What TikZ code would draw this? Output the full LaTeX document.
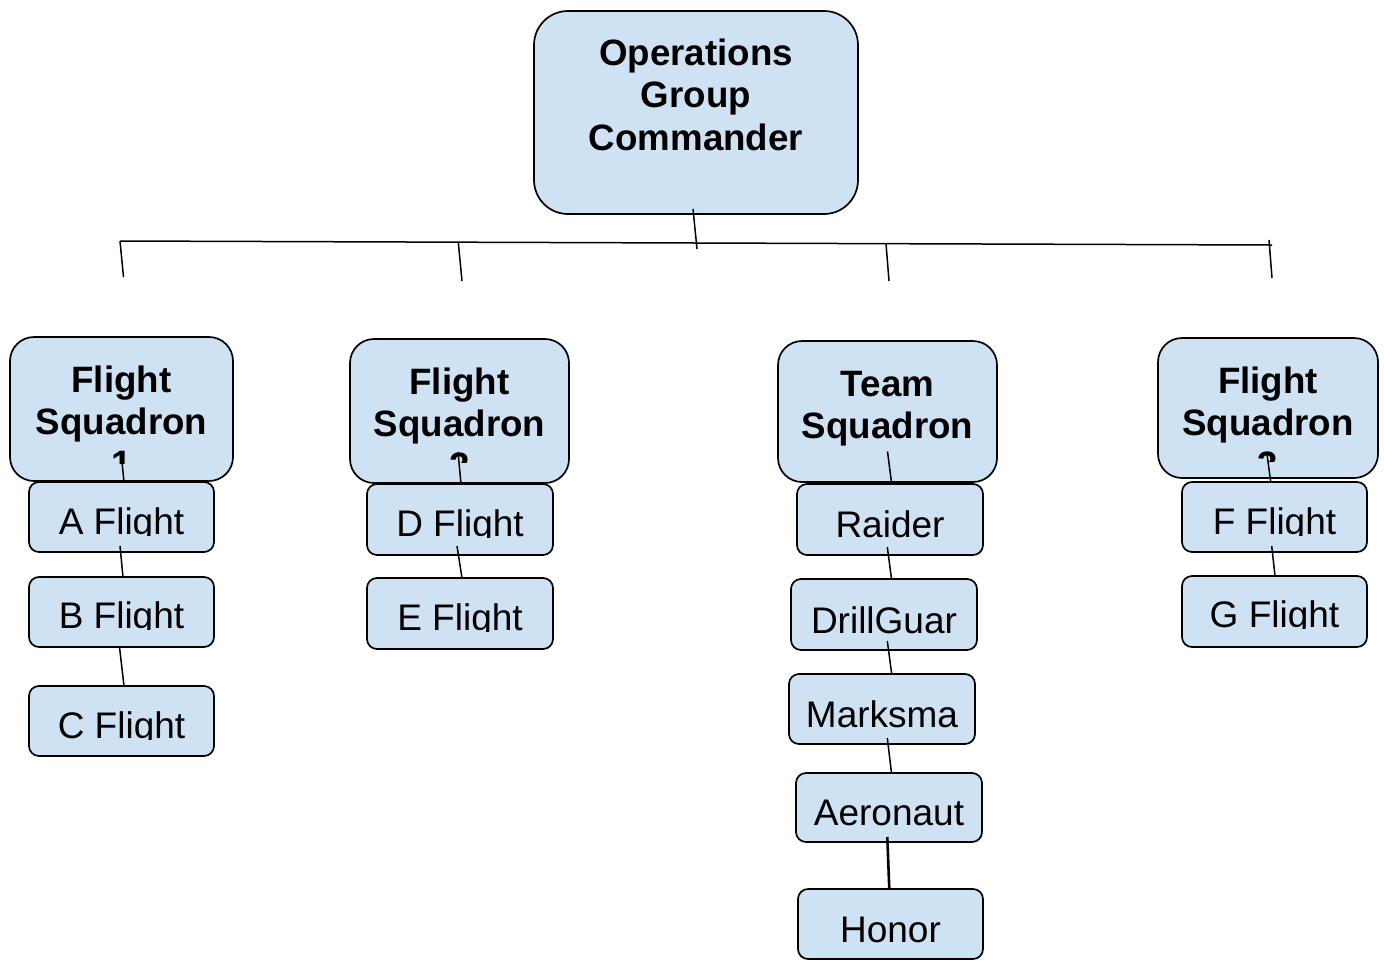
\documentclass[tikz,border=0pt]{standalone}
\usepackage{fontspec}
\setmainfont{Liberation Sans}
\definecolor{boxblue}{HTML}{CFE2F3}
\tikzset{
  box/.style={draw=black, line width=1.7pt, fill=boxblue, inner sep=0pt, outer sep=0pt, rectangle},
  bigbox/.style={box, rounded corners=34pt},
  sqbox/.style={box, rounded corners=24pt},
  smbox/.style={box, rounded corners=10pt},
  txt/.style={anchor=base, inner sep=0pt, outer sep=0pt, font=\fontsize{37}{42}\selectfont},
  btxt/.style={anchor=base, inner sep=0pt, outer sep=0pt, font=\fontsize{36.7}{42}\selectfont\bfseries},
  conn/.style={line width=1.5pt, draw=black},
  thickconn/.style={line width=2.6pt, draw=black},
}
% style, name, cx, cy, w, h
\newcommand\boxnode[6]{\node[#1, minimum width=#5pt, minimum height=#6pt] (#2) at (#3,#4) {};}
% style, name, x, baseline, clip bottom, text
\newcommand\cliptxt[6]{\begin{scope}\clip (#3-170,#4-70) rectangle (#3+170,#5); \node[#1] (#2) at (#3,#4) {#6};\end{scope}}
\begin{document}
\begin{tikzpicture}[x=1pt,y=-1pt]
\useasboundingbox (0,0) rectangle (1384,962);

% commander
\boxnode{bigbox}{cmd}{696}{112.5}{324}{203}
\node[btxt] (cmd1) at (696,65) {Operations};
\node[btxt] (cmd2) at (696,107) {Group};
\node[btxt] (cmd3) at (696,150) {Commander};

% squadrons
\boxnode{sqbox}{s1}{121.5}{409}{223}{144}
\node[btxt] (s1a) at (121.5,392) {Flight};
\node[btxt] (s1b) at (121.5,434) {Squadron};
\cliptxt{btxt}{s1c}{121.5}{476}{463}{1}

\boxnode{sqbox}{s2}{459.5}{411}{219}{144}
\node[btxt] (s2a) at (459.5,394) {Flight};
\node[btxt] (s2b) at (459.5,436) {Squadron};
\cliptxt{btxt}{s2c}{459.5}{478}{462}{2}

\boxnode{sqbox}{ts}{887.5}{411.5}{219}{141}
\node[btxt] (tsa) at (887.5,396) {Team};
\node[btxt] (tsb) at (887.5,438) {Squadron};

\boxnode{sqbox}{s3}{1268}{408}{220}{140}
\node[btxt] (s3a) at (1268,393) {Flight};
\node[btxt] (s3b) at (1268,435) {Squadron};
\cliptxt{btxt}{s3c}{1268}{477}{461}{3}

% flights
\boxnode{smbox}{A}{121.5}{517}{185}{70}
\cliptxt{txt}{At}{121.5}{534}{535.5}{A Flight}
\boxnode{smbox}{B}{121.5}{612}{185}{70}
\cliptxt{txt}{Bt}{121.5}{628}{629.5}{B Flight}
\boxnode{smbox}{C}{121.5}{721}{185}{70}
\cliptxt{txt}{Ct}{121.5}{738}{739.5}{C Flight}

\boxnode{smbox}{D}{460}{519.5}{186}{71}
\cliptxt{txt}{Dt}{460}{536}{537.5}{D Flight}
\boxnode{smbox}{E}{460}{613.5}{186}{71}
\cliptxt{txt}{Et}{460}{630}{631.5}{E Flight}

\boxnode{smbox}{F}{1274.5}{517}{185}{70}
\cliptxt{txt}{Ft}{1274.5}{534}{535.5}{F Flight}
\boxnode{smbox}{G}{1274.5}{611.5}{185}{71}
\cliptxt{txt}{Gt}{1274.5}{627}{628.5}{G Flight}

\boxnode{smbox}{R}{890}{519.5}{186}{71}
\node[txt] (Rt) at (890,537) {Raider};
\boxnode{smbox}{Dg}{884}{614.5}{186}{71}
\node[txt] (Dgt) at (884,633) {DrillGuar};
\boxnode{smbox}{M}{882}{709}{186}{70}
\node[txt] (Mt) at (882,727) {Marksma};
\boxnode{smbox}{Ae}{889}{807.5}{186}{69}
\node[txt] (Aet) at (889,825) {Aeronaut};
\boxnode{smbox}{H}{890.5}{924}{185}{70}
\node[txt] (Ht) at (890.5,942) {Honor};

% bar
\coordinate (barL) at (120,241);
\coordinate (barR) at (1272,245);
\coordinate (cb) at (697,249);
\coordinate (j2) at (458.3,242.5);
\coordinate (j3) at (886,243.5);
\coordinate (j4) at (1269,240);
\coordinate (t1) at (123.5,277);
\coordinate (t2) at (462,281);
\coordinate (t3) at (889,281);
\coordinate (t4) at (1272,278);
\draw[conn] (barL) -- (barR);
\draw[conn] ([xshift=-3pt,yshift=5pt]cmd.south) -- (cb);
\draw[conn] (barL) -- (t1);
\draw[conn] (j2) -- (t2);
\draw[conn] (j3) -- (t3);
\draw[conn] (j4) -- (t4);

% squadron to first child
\draw[conn] ([xshift=-0.5pt,yshift=29pt]s1.south) -- ([xshift=2.5pt]A.north);
\draw[conn] ([xshift=-1.5pt,yshift=31pt]s2.south) -- ([xshift=1pt]D.north);
\draw[conn] ([yshift=30.5pt]ts.south) -- ([xshift=1.7pt]R.north);
\draw[conn] ([xshift=-1.3pt,yshift=26pt]s3.south) -- ([xshift=-3.8pt]F.north);

% chains
\draw[conn] ([xshift=-1.5pt,yshift=6pt]A.south) -- ([xshift=1.5pt]B.north);
\draw[conn] ([xshift=-2pt]B.south) -- ([xshift=2.5pt]C.north);
\draw[conn] ([xshift=-3pt,yshift=9pt]D.south) -- ([xshift=2pt]E.north);
\draw[conn] ([xshift=-2.8pt,yshift=6pt]F.south) -- ([xshift=0.5pt]G.north);
\draw[conn] ([xshift=-2.7pt,yshift=8pt]R.south) -- ([xshift=7.5pt]Dg.north);
\draw[conn] ([xshift=3.3pt,yshift=9pt]Dg.south) -- ([xshift=9.7pt]M.north);
\draw[conn] ([xshift=5.3pt,yshift=6pt]M.south) -- ([xshift=2.5pt]Ae.north);
\draw[thickconn] ([xshift=-1.7pt,yshift=5pt]Ae.south) -- ([xshift=-1.2pt]H.north);
\end{tikzpicture}
\end{document}
